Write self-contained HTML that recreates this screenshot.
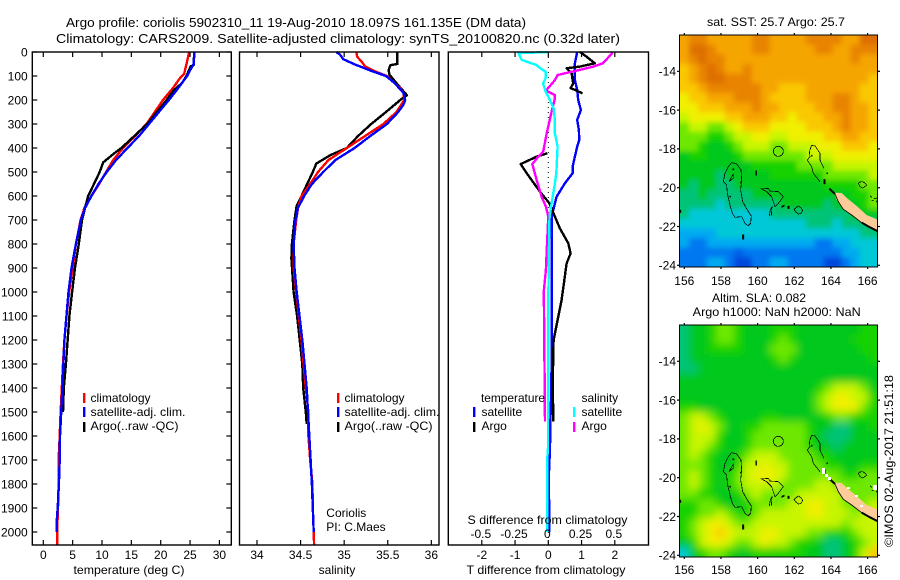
<!DOCTYPE html>
<html lang="en">
<head>
<meta charset="utf-8">
<title>Argo profile</title>
<style>
html,body{margin:0;padding:0;background:#fff;width:900px;height:580px;overflow:hidden}
svg{display:block}
text{font-family:"Liberation Sans",sans-serif;font-size:12px;fill:#000}
.frame{fill:none;stroke:#000;stroke-width:1.4}
.tick{stroke:#000;stroke-width:1.2;fill:none}
.series{fill:none;stroke-width:2.4;stroke-linejoin:round;shape-rendering:crispEdges}
.coast{fill:none;stroke:#000;stroke-width:2.2;shape-rendering:crispEdges}
.blob{fill:#000;stroke:#000;stroke-width:1}
</style>
</head>
<body>
<svg id="fig" width="900" height="580" viewBox="0 0 900 580" xmlns="http://www.w3.org/2000/svg">
<defs>
<clipPath id="clipA"><rect x="680" y="35" width="197.5" height="232"/></clipPath>
<clipPath id="clipB"><rect x="680" y="325" width="197.5" height="232"/></clipPath>
<filter id="soft" filterUnits="userSpaceOnUse" x="600" y="0" width="300" height="580"><feGaussianBlur stdDeviation="2.6"/></filter>
<filter id="softer" filterUnits="userSpaceOnUse" x="600" y="0" width="300" height="580"><feGaussianBlur stdDeviation="4.2"/></filter>
<g id="coast">
<path fill="#ffcc99" stroke="none" d="M492 548L515 549L532 565L560 588L590 615L630 632L630 665L600 650L570 635L540 612L515 592L500 570Z"/>
<path fill="none" stroke="#000" stroke-width="2.5" d="M495 552L505 575L520 598L545 615L575 638"/>
<path fill="none" stroke="#000" stroke-width="6" d="M478 536L495 552M575 638L600 652L630 667"/>
<circle class="coast" cx="325" cy="424" r="15"/>
<path class="coast" d="M185 458L200 462L213 480L215 510L212 540L218 575L232 600L244 618L242 640L235 647L225 640L215 620L195 622L187 610L180 585L172 550L170 525L160 515L165 490L175 470Z"/>
<path class="coast" d="M177 515L190 492L190 505Z"/>
<path class="coast" d="M275 537L295 535L300 543L325 545L340 560L325 580L315 590L305 560L290 545Z"/>
<path class="coast" d="M298 618L301 600L306 590L304 618"/>
<path class="coast" d="M372 598L385 588L394 594L398 602L392 611L385 612L378 606Z"/>
<path class="coast" d="M462 475L450 450L450 430L435 408L425 406L418 425L420 440L412 450L425 470L430 490L450 515"/>
<path class="coast" d="M565 520L570 516L578 515L586 520L590 526L578 534L570 530Z"/>
<path class="coast" d="M600 558L606 562M612 566L622 564M605 570L610 572M618 572L622 578"/>
<path class="blob" d="M257 482h3v14h-3zM217 674h5v14h-5zM29 600h4v8h-4zM335 588l8 -3v4l-8 4zM353 588h5v8h-5zM461 508h5v14h-5zM470 488h3v4h-3zM188 476h4v4h-4zM211 516h3v4h-3zM179 558h3v4h-3zM424 435h3v4h-3z"/>
</g>
</defs>

<rect x="0" y="0" width="900" height="580" fill="#fff"/>

<text x="66" y="27" textLength="460" lengthAdjust="spacingAndGlyphs" style="font-size:13px">Argo profile: coriolis 5902310_11 19-Aug-2010 18.097S 161.135E (DM data)</text>
<text x="56" y="43" textLength="564" lengthAdjust="spacingAndGlyphs" style="font-size:13px">Climatology: CARS2009. Satellite-adjusted climatology: synTS_20100820.nc (0.32d later)</text>

<g id="p1marks"></g>
<g id="p2marks"></g>
<g id="p3marks"></g>
<g id="axes"></g>

<rect class="frame" x="32.3" y="52" width="199" height="493"/>
<rect class="frame" x="239.5" y="52" width="199.5" height="493"/>
<rect class="frame" x="448.3" y="52" width="200.2" height="493"/>

<text x="129" y="574" text-anchor="middle" textLength="111" lengthAdjust="spacingAndGlyphs">temperature (deg C)</text>
<text x="337" y="574" text-anchor="middle">salinity</text>
<text x="546" y="574" text-anchor="middle" textLength="159" lengthAdjust="spacingAndGlyphs">T difference from climatology</text>
<text x="547.5" y="524" text-anchor="middle" textLength="160" lengthAdjust="spacingAndGlyphs">S difference from climatology</text>

<g>
<rect x="83" y="393" width="2.4" height="10" fill="#f00"/>
<text x="90.5" y="402">climatology</text>
<rect x="83" y="407" width="2.4" height="10" fill="#00f"/>
<text x="90.5" y="416" textLength="95" lengthAdjust="spacingAndGlyphs">satellite-adj. clim.</text>
<rect x="83" y="422" width="2.4" height="10" fill="#000"/>
<text x="90.5" y="430" textLength="88" lengthAdjust="spacingAndGlyphs">Argo(..raw -QC)</text>
</g>
<g>
<rect x="337" y="393" width="2.4" height="10" fill="#f00"/>
<text x="344.5" y="402">climatology</text>
<rect x="337" y="407" width="2.4" height="10" fill="#00f"/>
<text x="344.5" y="416" textLength="95" lengthAdjust="spacingAndGlyphs">satellite-adj. clim.</text>
<rect x="337" y="422" width="2.4" height="10" fill="#000"/>
<text x="344.5" y="430" textLength="88" lengthAdjust="spacingAndGlyphs">Argo(..raw -QC)</text>
</g>
<g>
<text x="481" y="402" textLength="64" lengthAdjust="spacingAndGlyphs">temperature</text>
<rect x="473" y="407" width="2.4" height="10" fill="#00f"/>
<text x="481.5" y="416">satellite</text>
<rect x="473" y="422" width="2.4" height="10" fill="#000"/>
<text x="481.5" y="430">Argo</text>
<text x="581.5" y="402">salinity</text>
<rect x="573" y="407" width="2.4" height="10" fill="#0ff"/>
<text x="581.5" y="416">satellite</text>
<rect x="573" y="422" width="2.4" height="10" fill="#f0f"/>
<text x="581.5" y="430">Argo</text>
</g>
<text x="326.3" y="517">Coriolis</text>
<text x="326.3" y="531">PI: C.Maes</text>

<g clip-path="url(#clipA)">
<g id="mapA" filter="url(#soft)"></g>
<use href="#coast" transform="translate(670,10) scale(0.33333)"/>
</g>
<g clip-path="url(#clipB)">
<g id="mapB" filter="url(#softer)"></g>
<use href="#coast" transform="translate(670,300) scale(0.33333)"/>
<path fill="#fff" d="M822 468h3v6h-3zM825 474h3v3h-3zM828 477h3v3h-3zM847 487h3v2h-3zM855 495h3v2h-3zM860 505h3v2h-3zM873 485h4v5h-4z"/>
</g>
<rect class="frame" x="679.5" y="35" width="198" height="232" style="stroke-width:1"/>
<rect class="frame" x="679.5" y="325" width="198" height="232" style="stroke-width:1"/>
<g id="mapAxes"></g>

<text x="707" y="26" textLength="138" lengthAdjust="spacingAndGlyphs">sat. SST: 25.7 Argo: 25.7</text>
<text x="712" y="302" textLength="94" lengthAdjust="spacingAndGlyphs">Altim. SLA: 0.082</text>
<text x="692.7" y="316" textLength="168" lengthAdjust="spacingAndGlyphs">Argo h1000: NaN h2000: NaN</text>
<text transform="translate(893,547) rotate(-90)" textLength="172" lengthAdjust="spacingAndGlyphs">©IMOS 02-Aug-2017 21:51:18</text>
</svg>

<script>
// ---- chart data ----
var depthTicks = [0,100,200,300,400,500,600,700,800,900,1000,1100,1200,1300,1400,1500,1600,1700,1800,1900,2000];
var tempTicks = [0,5,10,15,20,25,30];
var salTicks = [34,34.5,35,35.5,36];
var salTickLabels = ['34','34.5','35','35.5','36'];
var dtTicks = [-2,-1,0,1,2];
var dsTicks = [-0.5,-0.25,0,0.25,0.5];
var dsTickLabels = ['-0.5','-0.25','0','0.25','0.5'];
var lonTicks = [156,158,160,162,164,166];
var latTicks = [-14,-16,-18,-20,-22,-24];

var climTDepth = [0,50,90,110,150,200,250,300,350,400,450,500,550,600,650,700,800,900,1000,1100,1200,1300,1400,1500,1600,1700,1800,1900,2000,2054];
var climT = [24.85,24.4,24.0,23.25,22.1,20.4,19,17.6,15.6,13.6,11.9,10.7,9.5,8.2,7.0,6.35,5.55,5,4.4,3.95,3.6,3.35,3.15,2.95,2.8,2.6,2.6,2.5,2.35,2.35];
var satTDepth = [0,50,90,100,150,200,250,300,350,400,450,500,550,600,650,700,800,900,1000,1200,1400,1500,1600,1700,1800,1900,1950,2000];
var satT = [25.75,25.6,24.7,24.5,23,21.4,19.7,18,16.3,14.35,12.4,10.8,9.4,8.2,7.1,6.4,5.55,4.8,4.3,3.6,3.25,3.05,2.85,2.8,2.65,2.45,2.3,2.3];
var argoTDepth = [0,55,60,100,130,160,200,300,400,420,460,500,600,650,700,800,900,1000,1100,1300,1400,1500];
var argoT = [25.7,25.6,25.1,24.4,23.6,22.2,21,17.7,13.3,12.2,10.2,9.6,7.65,7.1,6.6,6.05,5.4,4.9,4.45,3.85,3.5,3.35];

var climSDepth = [0,20,40,60,80,100,130,150,170,200,250,300,350,400,450,500,550,600,650,700,800,900,1000,1100,1200,1300,1400,1500,1600,1700,1800,1900,2000,2054];
var climS = [35.14,35.15,35.2,35.24,35.35,35.49,35.58,35.64,35.68,35.69,35.6,35.45,35.24,35.03,34.82,34.7,34.61,34.51,34.47,34.45,34.42,34.42,34.45,34.48,34.51,34.535,34.56,34.59,34.59,34.61,34.635,34.64,34.65,34.655];
var satSDepth = [0,10,30,50,60,80,100,130,150,170,200,220,250,300,350,400,450,500,550,600,650,700,800,900,1000,1200,1400,1500,1600,1700,1800,1900,2000];
var satS = [34.91,34.95,34.99,35.11,35.18,35.32,35.48,35.58,35.63,35.68,35.7,35.68,35.62,35.49,35.3,35.12,34.9,34.76,34.63,34.54,34.47,34.44,34.42,34.43,34.455,34.52,34.57,34.585,34.6,34.615,34.63,34.64,34.65];
var argoSDepth = [0,50,55,75,95,130,155,180,195,250,300,350,400,430,465,500,600,640,700,800,860,1000,1100,1300,1400,1500,1550];
var argoS = [35.61,35.61,35.53,35.51,35.52,35.6,35.66,35.72,35.66,35.48,35.31,35.16,35.03,34.84,34.68,34.64,34.51,34.455,34.43,34.4,34.395,34.42,34.46,34.52,34.53,34.56,34.57];

var diffSatTDepth = [0,47,89,117,158,200,242,283,325,367,394,436,478,505,547,603,658,686,1000,1300,1450,1550,1650,1750,1800,1900,2000];
var diffSatT = [0.87,0.8,0.8,0.8,0.87,0.9,0.98,0.87,0.92,0.93,0.87,0.8,0.73,0.73,0.5,0.25,0.15,0.1,0.1,0.1,0.08,0.06,0.05,0.02,0.01,0.03,0.03];
var diffArgoTDepth = [0,19,47,61,68,75,89,131,151,158,172,401,422,436,467,505,582,630,686,735,797,839,881,964,1033,1200,1400,1500,1540];
var diffArgoT = [0.95,1.15,1.4,0.95,0.55,0.6,0.7,0.75,0.67,0.8,1.03,null,-0.03,-0.35,-0.83,-0.65,-0.25,0.03,0.2,0.35,0.6,0.67,0.55,0.47,0.4,0.16,0.13,0.15,0.15];
var diffSatSDepth = [0,5,33,54,68,82,110,131,165,186,235,283,339,394,505,547,630,686,730,1033,1650,1700,2000];
var diffSatS = [0,-0.225,-0.2,-0.09,-0.06,-0.02,-0.02,-0.04,-0.02,0,0.04,0.05,0.05,0.07,0.06,0.05,0.025,0.01,0.007,0,-0.002,-0.008,-0.008];
var diffArgoSDepth = [0,8,47,61,78,96,117,161,179,193,249,339,415,436,467,533,603,644,686,783,908,992,1033,1540];
var diffArgoS = [0.476,0.476,0.41,0.34,0.21,0.07,0.05,-0.018,0.05,0.05,0.025,-0.012,-0.038,-0.075,-0.12,-0.088,-0.05,-0.018,0,-0.008,-0.018,-0.033,-0.033,-0.025];

// colour-level grids, one row per map row (north to south)
var sstGrid = [
[11,12,12,11,11,11,11,11,12,12,11,11,11,11,12,12,12,12,11,11,13,13],
[11,13,13,12,11,11,11,11,12,12,11,11,11,11,11,12,12,11,11,12,12,12],
[11,12,13,12,12,11,11,11,11,11,11,11,11,11,11,11,11,11,11,12,11,11],
[10,11,12,13,12,11,11,12,11,11,11,11,11,11,11,11,11,11,11,11,11,11],
[10,11,12,13,13,12,12,12,11,11,11,11,11,11,11,11,11,11,11,11,11,10],
[10,10,11,12,12,12,12,12,12,11,11,10,10,10,11,11,11,11,11,11,10,10],
[9,10,10,11,11,11,12,12,12,11,10,10,10,10,11,11,11,12,12,11,10,10],
[9,9,10,10,10,11,11,11,12,11,11,10,10,10,10,11,11,12,12,11,11,10],
[8,9,9,9,9,10,10,11,11,11,10,10,9,10,10,10,11,11,12,11,11,10],
[7,8,8,7,7,8,9,10,10,10,9,9,9,9,10,10,10,11,12,11,11,10],
[7,7,7,6,6,7,8,8,9,9,8,8,9,9,9,9,10,10,11,11,10,10],
[7,7,6,5,5,6,7,8,8,8,7,7,8,8,8,9,9,9,10,10,10,9],
[5,6,6,5,5,5,6,7,7,7,7,7,7,7,8,8,8,9,9,9,9,9],
[5,5,5,5,5,5,5,5,6,6,6,6,6,7,7,7,7,8,8,8,8,8],
[5,5,5,5,4,5,5,5,5,5,6,6,6,6,6,6,7,7,7,7,7,8],
[5,4,5,5,4,4,5,5,5,5,5,5,5,5,5,5,6,6,6,6,7,7],
[4,4,5,4,4,4,4,4,5,5,5,5,5,5,5,5,5,5,5,6,6,7],
[4,4,4,4,3,4,4,4,4,4,4,5,5,5,5,5,4,5,5,5,6,7],
[4,3,3,3,3,3,3,3,3,3,4,4,4,4,4,4,4,4,4,5,5,5],
[3,3,3,3,3,3,3,3,3,3,3,3,3,3,4,4,4,3,4,4,4,4],
[2,2,2,2,3,3,3,3,3,3,3,3,3,3,3,3,3,3,3,3,4,4],
[2,1,1,2,2,2,2,2,2,2,2,2,2,2,2,1,1,2,2,3,3,3],
[1,1,1,1,1,1,0.5,1,1,1,1,1,1,1,1,1,1,1,2,2,3,3],
[1,1,1,2,2,1,0,0,1,1,2,2,1,1,1,1,0,0,1,2,3,3]
];
var slaGrid = [
[4,5,5,6,7,7,6,5,5,5,6,6,6,5,5,5,5,5,5,5,6,6],
[4,5,5,6,7,7,6,5,5,5,6,7,6,5,5,5,5,5,5,6,6,6],
[4,5,5,6,6,6,6,5,5,5,7,7,7,5,5,5,5,5,5,5,6,6],
[4,5,5,5,5,5,5,5,5,5,6,7,6,5,5,5,5,5,5,5,5,6],
[4,4,5,5,5,5,5,5,5,5,5,5,5,5,5,5,5,5,5,5,5,5],
[5,5,5,5,5,5,5,5,5,5,5,5,5,5,5,5,5,5,5,5,5,5],
[5,5,5,5,5,5,5,5,5,5,5,5,5,5,5,6,7,8,8,8,7,5],
[5,5,5,5,5,5,5,5,5,5,5,5,5,5,5,7,8,9,9,8,8,6],
[6,6,5,5,5,5,5,5,5,5,5,5,5,5,5,7,8,9,9,9,7,6],
[7,8,8,7,6,5,5,5,5,6,6,5,5,5,5,5,6,7,7,6,6,6],
[7,8,9,8,7,5,5,6,6,7,7,7,7,7,6,5,5,4,4,5,5,6],
[7,8,8,8,6,5,5,6,7,7,7,7,7,7,6,5,4,4,4,5,5,5],
[7,8,8,7,6,5,5,6,7,7,7,7,7,7,6,5,5,4,5,5,5,5],
[7,8,7,6,5,5,6,7,8,8,8,7,7,7,7,6,6,5,5,5,5,5],
[7,7,7,6,5,5,6,8,8,9,8,8,7,7,7,7,6,6,5,5,6,6],
[7,8,7,6,5,6,7,8,9,9,9,8,7,7,7,7,7,7,6,6,7,7],
[7,8,7,6,5,6,7,8,8,8,8,7,7,7,7,8,8,7,7,7,7,7],
[7,7,6,6,5,5,6,7,8,7,7,7,7,8,8,8,8,8,7,7,7,7],
[6,6,7,7,6,5,5,6,7,7,7,7,8,8,9,9,8,8,7,7,7,8],
[6,6,7,7,8,7,6,6,7,8,8,8,8,8,9,9,8,8,8,7,8,8],
[6,7,8,9,9,8,7,7,8,8,8,8,8,8,8,8,8,8,7,8,8,8],
[6,7,8,9,10,9,8,8,8,9,9,8,8,8,7,7,6,6,6,7,8,8],
[5,6,8,9,9,8,7,7,8,9,8,8,7,6,6,5,4,4,5,6,7,8],
[3,5,6,7,7,6,5,5,6,6,6,6,6,6,5,5,4,4,5,6,8,10]
];

// ---- axis functions ----
function yDepth(d){return 52+d*0.24;}
function xTemp(t){return 43.3+t*5.87;}
function xSal(s){return 257+(s-34)*87.17;}
function xDT(v){return 548.3+v*33.25;}
function xDS(v){return 548.3+v*133;}
function xLon(l){return 684.3+(l-156)*18.33;}
function yLatA(l){return 71.3+(-14-l)*19.4;}
function yLatB(l){return 361.3+(-14-l)*19.4;}

// ---- helpers ----
var NS='http://www.w3.org/2000/svg';
function mk(tag,attrs,parent){
  var e=document.createElementNS(NS,tag);
  for(var k in attrs){e.setAttribute(k,attrs[k]);}
  parent.appendChild(e);
  return e;
}
function polyPath(vals,depths,xf){
  var d='',pen=false;
  for(var i=0;i<vals.length;i++){
    if(vals[i]===null){pen=false;continue;}
    d+=(pen?'L':'M')+xf(vals[i]).toFixed(1)+' '+yDepth(depths[i]).toFixed(1);
    pen=true;
  }
  return d;
}
function drawSeries(parent,vals,depths,xf,color,name){
  var el=mk('path',{'class':'series',d:polyPath(vals,depths,xf),stroke:color},parent);
  
  
}

var p1=document.getElementById('p1marks'),p2=document.getElementById('p2marks'),p3=document.getElementById('p3marks');
drawSeries(p1,climT,climTDepth,xTemp,'#f00','temperature-climatology-line');
drawSeries(p1,argoT,argoTDepth,xTemp,'#000','temperature-argo-line');
drawSeries(p1,satT,satTDepth,xTemp,'#00f','temperature-satellite-line');
drawSeries(p2,argoS,argoSDepth,xSal,'#000','salinity-argo-line');
drawSeries(p2,climS,climSDepth,xSal,'#f00','salinity-climatology-line');
drawSeries(p2,satS,satSDepth,xSal,'#00f','salinity-satellite-line');

var zero=mk('line',{x1:xDT(0),x2:xDT(0),y1:52,y2:545,stroke:'#000','stroke-width':1,'stroke-dasharray':'1 4'},p3);


drawSeries(p3,diffSatT,diffSatTDepth,xDT,'#00f','t-difference-satellite-line');
drawSeries(p3,diffArgoT,diffArgoTDepth,xDT,'#000','t-difference-argo-line');
drawSeries(p3,diffArgoS,diffArgoSDepth,xDS,'#f0f','s-difference-argo-line');
drawSeries(p3,diffSatS,diffSatSDepth,xDS,'#0ff','s-difference-satellite-line');

// ---- profile axes ----
var ax=document.getElementById('axes');
function tick(x1,y1,x2,y2,parent){
  var t=mk('line',{'class':'tick',x1:x1,y1:y1,x2:x2,y2:y2},parent);
  
  
}
function label(x,y,str,anchor,parent){
  var t=mk('text',{x:x,y:y,'text-anchor':anchor},parent);
  t.textContent=str;
  
  
}
depthTicks.forEach(function(d){
  var y=yDepth(d);
  tick(32.3,y,37.3,y,ax);
  tick(226.3,y,231.3,y,ax);
  label(27.7,y+4.3,String(d),'end',ax);
});
tempTicks.forEach(function(t){
  var x=xTemp(t);
  tick(x,52,x,57,ax);
  tick(x,540,x,545,ax);
  label(x,559,String(t),'middle',ax);
});
salTicks.forEach(function(s,i){
  var x=xSal(s);
  tick(x,52,x,57,ax);
  tick(x,540,x,545,ax);
  label(x,559,salTickLabels[i],'middle',ax);
});
dtTicks.forEach(function(v){
  var x=xDT(v);
  tick(x,52,x,57,ax);
  tick(x,540,x,545,ax);
  label(x,559,String(v),'middle',ax);
});
dsTicks.forEach(function(v,i){
  label(xDS(v)-1,538,dsTickLabels[i],'middle',ax);
});

// ---- maps ----
var palette=[[0,70,220],[0,120,240],[0,170,240],[0,200,215],[0,195,120],[0,200,30],[20,210,0],[110,232,0],[200,245,0],[240,240,0],[250,200,0],[245,165,0],[232,132,0],[222,110,0]];
function levelColor(v){
  var i=Math.max(0,Math.min(palette.length-2,Math.floor(v)));
  var f=Math.max(0,Math.min(1,v-i));
  var a=palette[i],b=palette[i+1];
  return 'rgb('+Math.round(a[0]+(b[0]-a[0])*f)+','+Math.round(a[1]+(b[1]-a[1])*f)+','+Math.round(a[2]+(b[2]-a[2])*f)+')';
}
function drawMap(grid,top,parent,name){
  var left=680,w=197.5,h=232;
  var nr=grid.length;
  grid.forEach(function(row,r){
    var cw=w/row.length,ch=h/nr;
    row.forEach(function(v,c){
      var x=left+c*cw,y=top+r*ch,rw=cw+0.6,rh=ch+0.6;
      if(c===0){x-=14;rw+=14;}
      if(c===row.length-1){rw+=14;}
      if(r===0){y-=14;rh+=14;}
      if(r===nr-1){rh+=14;}
      var cell=mk('rect',{x:x.toFixed(2),y:y.toFixed(2),width:rw.toFixed(2),height:rh.toFixed(2),fill:levelColor(v)},parent);
      
      
    });
  });
}
drawMap(sstGrid,35,document.getElementById('mapA'),'sst-cell');
drawMap(slaGrid,325,document.getElementById('mapB'),'sla-cell');

var mx=document.getElementById('mapAxes');
lonTicks.forEach(function(l){
  var x=xLon(l);
  tick(x,33,x,35,mx);
  tick(x,267,x,269,mx);
  label(x,285,String(l),'middle',mx);
  tick(x,323,x,325,mx);
  tick(x,557,x,559,mx);
  label(x,574,String(l),'middle',mx);
});
latTicks.forEach(function(l){
  var ya=yLatA(l),yb=yLatB(l);
  tick(677,ya,679.5,ya,mx);
  tick(877.5,ya,880,ya,mx);
  label(676,ya+4.3,String(l),'end',mx);
  tick(677,yb,679.5,yb,mx);
  tick(877.5,yb,880,yb,mx);
  label(676,yb+4.3,String(l),'end',mx);
});
</script>
</body>
</html>
